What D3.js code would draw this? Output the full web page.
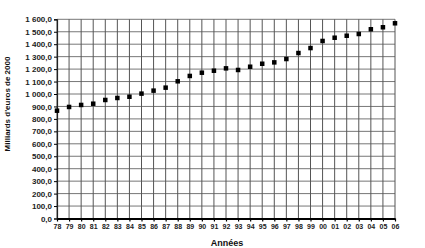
<!DOCTYPE html>
<html><head><meta charset="utf-8">
<script src="https://cdn.jsdelivr.net/npm/d3@7"></script>
<style>body{margin:0;background:#fff}svg{display:block}</style>
</head><body>
<svg id="c" width="425" height="248"></svg>
<script>
const years = ["78","79","80","81","82","83","84","85","86","87","88","89","90","91","92","93","94","95","96","97","98","99","00","01","02","03","04","05","06"];
const values = [866,896,912,922,952,968,978,1003,1027,1051,1102,1145,1171,1187,1206,1193,1219,1243,1254,1281,1329,1369,1426,1452,1468,1482,1520,1536,1568];
const yTicks = [0,100,200,300,400,500,600,700,800,900,1000,1100,1200,1300,1400,1500,1600];
const yTitle = "Milliards d'euros de 2000";
const xTitle = "Années";

const svg = d3.select("#c");
const x = d3.scalePoint().domain(years).range([57, 395]);
const y = d3.scaleLinear().domain([0,1600]).range([218.5, 19.3]);
const loc = d3.formatLocale({decimal:",", thousands:" ", grouping:[3], currency:["","€"]});
const fmt = loc.format(",.1f");
const font = "Liberation Sans, Arial, sans-serif";

// horizontal grid
svg.append("g").selectAll("line").data(yTicks).join("line")
  .attr("x1", 57).attr("x2", 395)
  .attr("y1", d => y(d)).attr("y2", d => y(d))
  .attr("stroke", "#777").attr("stroke-width", 1);
// vertical grid
svg.append("g").selectAll("line").data(years).join("line")
  .attr("x1", d => x(d)).attr("x2", d => x(d))
  .attr("y1", y(1600)).attr("y2", y(0))
  .attr("stroke", "#555").attr("stroke-width", 1);

// y axis
const ya = svg.append("g").attr("transform", "translate(57,0)")
  .call(d3.axisLeft(y).tickValues(yTicks).tickFormat(fmt).tickSize(3).tickPadding(2));
ya.select(".domain").attr("stroke", "#222").attr("stroke-width", 1.2);
ya.selectAll("text").attr("font-family", font).attr("font-weight", "bold").attr("font-size", 8).attr("fill", "#222");

// x axis
const xa = svg.append("g").attr("transform", `translate(0,${y(0)})`)
  .call(d3.axisBottom(x).tickSize(3).tickPadding(3).tickSizeOuter(0));
xa.select(".domain").attr("stroke", "#000").attr("stroke-width", 2);
xa.selectAll(".tick line").attr("stroke-width", 1.2);
xa.selectAll("text").attr("font-family", font).attr("font-weight", "bold").attr("font-size", 7).attr("fill", "#222");

// markers
svg.append("g").selectAll("rect").data(years.map((d,i)=>({yr:d, v:values[i]}))).join("rect")
  .attr("x", d => x(d.yr) - 2.25).attr("y", d => y(d.v) - 2.25)
  .attr("width", 4.5).attr("height", 4.5).attr("fill", "#000");

// titles
svg.append("text").attr("transform", "translate(10,104) rotate(-90)")
  .attr("text-anchor", "middle").attr("font-family", font).attr("font-weight", "bold")
  .attr("font-size", 8).attr("fill", "#111").text(yTitle);
svg.append("text").attr("x", 227).attr("y", 246)
  .attr("text-anchor", "middle").attr("font-family", font).attr("font-weight", "bold")
  .attr("font-size", 9).attr("fill", "#111").text(xTitle);
</script>
</body></html>
